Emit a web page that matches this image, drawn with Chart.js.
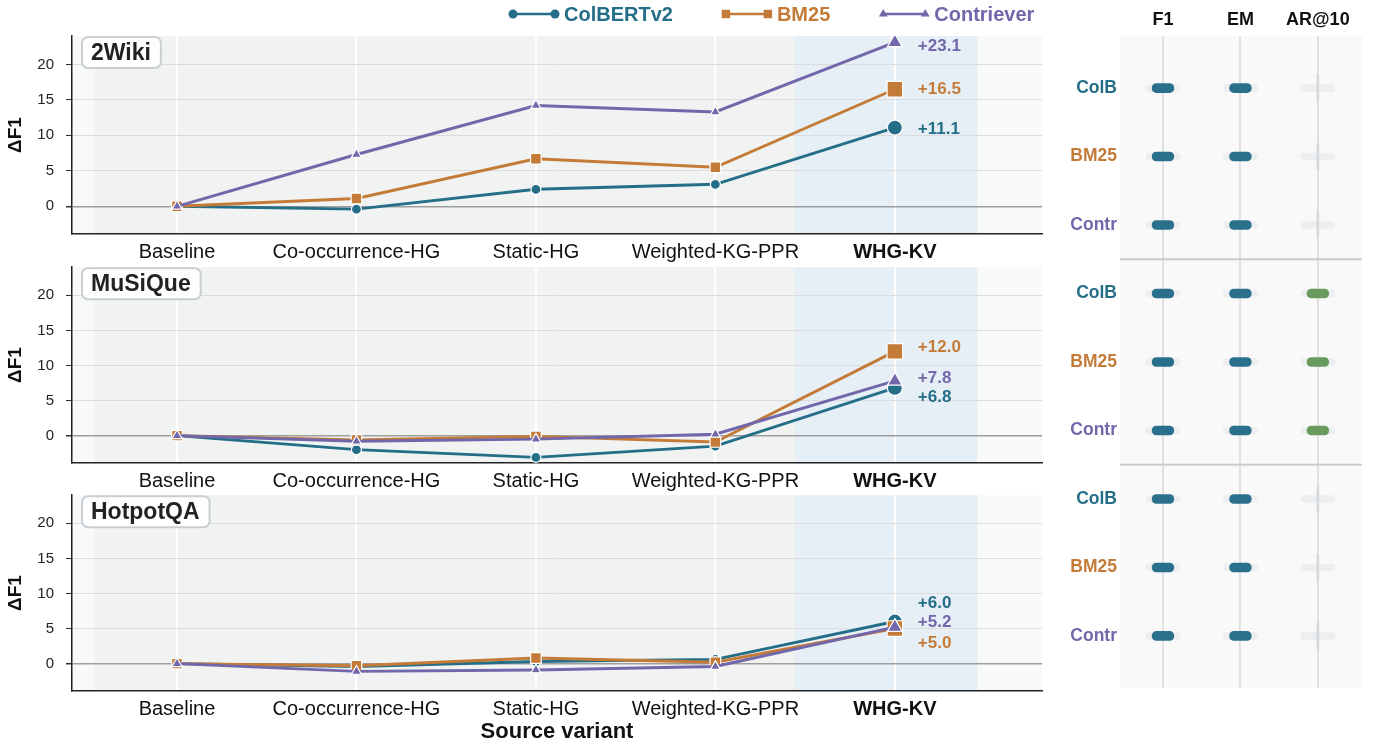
<!DOCTYPE html>
<html>
<head>
<meta charset="utf-8">
<script src="https://cdn.jsdelivr.net/npm/chart.js@4.4.1/dist/chart.umd.min.js"></script>
<style>
  html, body { margin: 0; padding: 0; background: #fff; }
  body { width: 1375px; height: 749px; position: relative; overflow: hidden; }
  canvas { position: absolute; }
</style>
</head>
<body>
<canvas id="panel0" width="1062" height="264" style="left:0;top:0"></canvas>
<canvas id="panel1" width="1062" height="238" style="left:0;top:255px"></canvas>
<canvas id="panel2" width="1062" height="263" style="left:0;top:483px"></canvas>
<canvas id="summary" width="315" height="700" style="left:1060px;top:0"></canvas>
<script>
/* ==================== DATA ==================== */

const variants = ['Baseline', 'Co-occurrence-HG', 'Static-HG', 'Weighted-KG-PPR', 'WHG-KV'];
const retrievers = ['ColBERTv2', 'BM25', 'Contriever'];
const datasetNames = ['2Wiki', 'MuSiQue', 'HotpotQA'];

// ΔF1 against the baseline, per retriever
const wiki2Colbert = [0, -0.4, 2.4, 3.1, 11.1];
const wiki2Bm25 = [0, 1.1, 6.7, 5.5, 16.5];
const wiki2Contriever = [0, 7.3, 14.2, 13.3, 23.1];

const musiqueColbert = [0, -2.0, -3.1, -1.5, 6.8];
const musiqueBm25 = [0, -0.6, -0.1, -0.9, 12.0];
const musiqueContriever = [0, -0.8, -0.5, 0.2, 7.8];

const hotpotColbert = [0, -0.4, 0.3, 0.6, 6.0];
const hotpotBm25 = [0, -0.3, 0.8, 0.2, 5.0];
const hotpotContriever = [0, -1.1, -0.9, -0.4, 5.2];

const yTicks = [0, 5, 10, 15, 20];

// right-hand summary: 1 = metric reported, 0 = not reported
const metrics = ['F1', 'EM', 'AR@10'];
const rowLabels = ['ColB', 'BM25', 'Contr'];
const wiki2Cells = [[1, 1, 0], [1, 1, 0], [1, 1, 0]];
const musiqueCells = [[1, 1, 1], [1, 1, 1], [1, 1, 1]];
const hotpotCells = [[1, 1, 0], [1, 1, 0], [1, 1, 0]];

/* ==================== STYLE ==================== */

const seriesColors = ['#256e88', '#c47b38', '#7167aa'];
const pointStyles = ['circle', 'rect', 'triangle'];
const smallRadius = [5, 7.5, 5.8];
const bigRadius = [7.5, 11, 8.5];
const metricColors = ['#2a6f8b', '#2a6f8b', '#6a9b5e'];

// pixel nudges for the end labels (ColBERTv2, BM25, Contriever)
const labelNudge = [[2, 0, 4], [9, -4, -3], [-18, 15, -5]];

Chart.defaults.font.family = "'Liberation Sans', Arial, sans-serif";
Chart.defaults.color = '#222';

/* ==================== PLUGINS ==================== */

const bandPlugin = {
    id: 'bands',
    beforeDraw(chart) {
        const { ctx, chartArea: a, scales: { x } } = chart;
        const h = a.bottom - a.top;
        ctx.save();
        ctx.fillStyle = '#f8f9f9';
        ctx.fillRect(a.left, a.top, a.right - a.left, h);
        const g0 = x.getPixelForValue(-0.46);
        const g1 = x.getPixelForValue(3.44);
        const g2 = x.getPixelForValue(4.46);
        ctx.fillStyle = '#f0f3f2';
        ctx.fillRect(g0, a.top, g1 - g0, h);
        ctx.fillStyle = '#e6eff5';
        ctx.fillRect(g1, a.top, g2 - g1, h);
        ctx.restore();
    }
};

const panelTag = {
    id: 'panelTag',
    afterDatasetsDraw(chart, args, opts) {
        const { ctx, chartArea: a } = chart;
        ctx.save();
        ctx.font = "bold 23px 'Liberation Sans', Arial, sans-serif";
        const w = ctx.measureText(opts.text).width + 19;
        const x = a.left + 10, y = a.top + 1, h = 31;
        ctx.beginPath();
        ctx.roundRect(x, y, w, h, 6);
        ctx.fillStyle = 'rgba(255,255,255,0.92)';
        ctx.fill();
        ctx.lineWidth = 2;
        ctx.strokeStyle = '#c8ced3';
        ctx.stroke();
        ctx.fillStyle = '#222';
        ctx.textBaseline = 'middle';
        ctx.fillText(opts.text, x + 9, y + h / 2 + 1);
        ctx.restore();
    }
};

const endLabels = {
    id: 'endLabels',
    afterDatasetsDraw(chart, args, opts) {
        const { ctx } = chart;
        ctx.save();
        ctx.font = "bold 17px 'Liberation Sans', Arial, sans-serif";
        ctx.textBaseline = 'middle';
        chart.data.datasets.forEach((ds, i) => {
            const pts = chart.getDatasetMeta(i).data;
            const p = pts[pts.length - 1];
            const v = ds.data[ds.data.length - 1].y;
            ctx.fillStyle = seriesColors[i];
            ctx.fillText('+' + v.toFixed(1), p.x + 23, p.y + opts.nudge[i]);
        });
        ctx.restore();
    }
};

function drawMarker(ctx, style, x, y, r) {
    ctx.beginPath();
    if (style === 'circle') {
        ctx.arc(x, y, r, 0, Math.PI * 2);
    } else if (style === 'rect') {
        const s = r * Math.SQRT1_2;
        ctx.rect(x - s, y - s, 2 * s, 2 * s);
    } else {
        for (let k = 0; k < 3; k++) {
            const ang = k * 2 * Math.PI / 3;
            const px = x + Math.sin(ang) * r, py = y - Math.cos(ang) * r;
            k === 0 ? ctx.moveTo(px, py) : ctx.lineTo(px, py);
        }
        ctx.closePath();
    }
    ctx.fill();
}

const topLegend = {
    id: 'topLegend',
    afterDraw(chart) {
        const { ctx } = chart;
        const y = 14;
        let x = 513;
        ctx.save();
        ctx.font = "bold 20px 'Liberation Sans', Arial, sans-serif";
        ctx.textBaseline = 'middle';
        retrievers.forEach((name, i) => {
            const r = [4.5, 6, 5][i];
            ctx.strokeStyle = seriesColors[i];
            ctx.fillStyle = seriesColors[i];
            ctx.lineWidth = 2.6;
            ctx.beginPath();
            ctx.moveTo(x, y);
            ctx.lineTo(x + 42, y);
            ctx.stroke();
            drawMarker(ctx, pointStyles[i], x, y, r);
            drawMarker(ctx, pointStyles[i], x + 42, y, r);
            ctx.fillText(name, x + 51, y + 1);
            x += 51 + ctx.measureText(name).width + 53;
        });
        ctx.restore();
    }
};

function noEdgePadding(s) {
    s.paddingTop = 0;
    s.paddingBottom = 0;
    s.paddingLeft = 0;
    s.paddingRight = 0;
}

/* ==================== LINE PANELS ==================== */

function buildPanel(canvasId, idx, series) {
    const isFirst = idx === 0;
    const isLast = idx === datasetNames.length - 1;
    return new Chart(document.getElementById(canvasId), {
        type: 'line',
        data: {
            datasets: retrievers.map((name, i) => ({
                label: name,
                data: series[i].map((v, j) => ({ x: j, y: v })),
                order: 3 - i,
                borderColor: seriesColors[i],
                backgroundColor: seriesColors[i],
                borderWidth: 2.9,
                tension: 0,
                pointStyle: pointStyles[i],
                pointRadius: ctx => ctx.dataIndex === variants.length - 1 ? bigRadius[i] : smallRadius[i],
                pointBackgroundColor: seriesColors[i],
                pointBorderColor: '#ffffff',
                pointBorderWidth: 1.2
            }))
        },
        options: {
            responsive: false,
            animation: false,
            layout: { padding: { left: 0, right: 20, top: isFirst ? 36 : 10, bottom: 0 } },
            plugins: {
                legend: { display: false },
                tooltip: { enabled: false },
                panelTag: { text: datasetNames[idx] },
                endLabels: { nudge: labelNudge[idx] }
            },
            scales: {
                x: {
                    type: 'linear',
                    min: -0.585,
                    max: 4.82,
                    afterBuildTicks: s => { s.ticks = variants.map((_, j) => ({ value: j })); },
                    afterFit: s => { s.height = isLast ? 55 : 30; noEdgePadding(s); },
                    grid: { color: '#ffffff', lineWidth: 2, drawTicks: false },
                    border: { color: '#222', width: 1.5 },
                    ticks: {
                        autoSkip: false,
                        maxRotation: 0,
                        padding: 6,
                        color: '#111',
                        callback: v => variants[v],
                        font: ctx => ({ size: 20, weight: ctx.tick && ctx.tick.value === 4 ? 'bold' : 'normal' })
                    },
                    title: {
                        display: isLast,
                        text: 'Source variant',
                        color: '#111',
                        font: { size: 22, weight: 'bold' },
                        padding: { top: 0, bottom: 1 }
                    }
                },
                y: {
                    min: -3.9,
                    max: 24,
                    afterBuildTicks: s => { s.ticks = yTicks.map(v => ({ value: v })); },
                    afterFit: s => { s.width = 72; noEdgePadding(s); },
                    grid: {
                        color: ctx => ctx.tick && ctx.tick.value === 0 ? '#9e9e9e' : '#dcdcdc',
                        lineWidth: ctx => ctx.tick && ctx.tick.value === 0 ? 1.5 : 1,
                        tickColor: '#333',
                        tickLength: 6
                    },
                    border: { color: '#222', width: 1.5 },
                    ticks: { color: '#222', padding: 12, font: { size: 15 } },
                    title: {
                        display: true,
                        text: 'ΔF1',
                        color: '#111',
                        font: { size: 19, weight: 'bold' },
                        padding: { top: 4, bottom: 0 }
                    }
                }
            }
        },
        plugins: isFirst ? [bandPlugin, panelTag, endLabels, topLegend] : [bandPlugin, panelTag, endLabels]
    });
}

buildPanel('panel0', 0, [wiki2Colbert, wiki2Bm25, wiki2Contriever]);
buildPanel('panel1', 1, [musiqueColbert, musiqueBm25, musiqueContriever]);
buildPanel('panel2', 2, [hotpotColbert, hotpotBm25, hotpotContriever]);

/* ==================== SUMMARY STRIP ==================== */

const allCells = [wiki2Cells, musiqueCells, hotpotCells];
const trackData = [], pillData = [], pillColors = [], naData = [];
const rowIdx = [];

allCells.forEach((cells, d) => {
    cells.forEach((row, r) => {
        const y = d * rowLabels.length + r;
        rowIdx.push(y);
        row.forEach((flag, c) => {
            trackData.push({ x: [c - 0.22, c + 0.22], y });
            if (flag) {
                pillData.push({ x: [c - 0.14, c + 0.14], y });
                pillColors.push(metricColors[c]);
            } else {
                naData.push({ x: [c - 0.013, c + 0.013], y });
            }
        });
    });
});

const summaryFrame = {
    id: 'summaryFrame',
    beforeDraw(chart) {
        const { ctx, chartArea: a } = chart;
        ctx.save();
        ctx.fillStyle = '#f9f9f9';
        ctx.fillRect(a.left, a.top, a.right - a.left, a.bottom - a.top);
        ctx.restore();
    },
    beforeDatasetsDraw(chart) {
        const { ctx, chartArea: a, scales: { y } } = chart;
        ctx.save();
        ctx.strokeStyle = '#cbcbcb';
        ctx.lineWidth = 2;
        [2.5, 5.5].forEach(v => {
            const py = y.getPixelForValue(v);
            ctx.beginPath();
            ctx.moveTo(a.left, py);
            ctx.lineTo(a.right, py);
            ctx.stroke();
        });
        ctx.restore();
    }
};

new Chart(document.getElementById('summary'), {
    type: 'bar',
    data: {
        datasets: [
            { data: trackData, backgroundColor: '#eceef0', barThickness: 7, borderRadius: 4, borderSkipped: false, grouped: false, order: 3 },
            { data: pillData, backgroundColor: pillColors, barThickness: 9, borderRadius: 5, borderSkipped: false, grouped: false, order: 2 },
            { data: naData, backgroundColor: '#d6d9dc', barThickness: 27, borderRadius: 1, borderSkipped: false, grouped: false, order: 1 }
        ]
    },
    options: {
        indexAxis: 'y',
        responsive: false,
        animation: false,
        layout: { padding: { left: 0, right: 13, top: 0, bottom: 12 } },
        plugins: { legend: { display: false }, tooltip: { enabled: false } },
        scales: {
            x: {
                type: 'linear',
                position: 'top',
                min: -0.555,
                max: 2.57,
                afterBuildTicks: s => { s.ticks = metrics.map((_, i) => ({ value: i })); },
                afterFit: s => { s.height = 36; noEdgePadding(s); },
                grid: { color: '#e1e1e1', lineWidth: 2, drawTicks: false },
                border: { display: false },
                ticks: { color: '#111', padding: 5, font: { size: 18, weight: 'bold' }, callback: v => metrics[v] }
            },
            y: {
                type: 'linear',
                reverse: true,
                offset: false,
                min: -0.76,
                max: 8.76,
                afterBuildTicks: s => { s.ticks = rowIdx.map(v => ({ value: v })); },
                afterFit: s => { s.width = 60; noEdgePadding(s); },
                grid: { display: false, drawTicks: false, offset: false },
                border: { display: false },
                ticks: {
                    padding: 3,
                    font: { size: 17.5, weight: 'bold' },
                    color: ctx => seriesColors[(ctx.tick ? ctx.tick.value : 0) % 3],
                    callback: v => rowLabels[v % 3]
                }
            }
        }
    },
    plugins: [summaryFrame]
});
</script>
</body>
</html>
